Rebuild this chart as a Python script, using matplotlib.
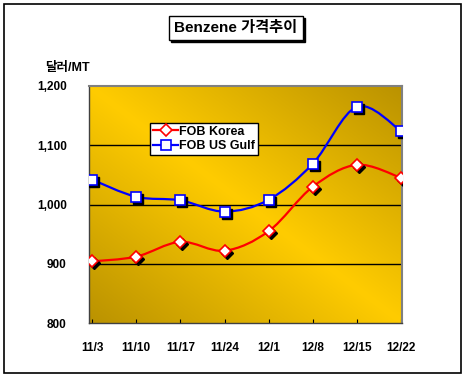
import matplotlib
matplotlib.use("Agg")
import matplotlib.pyplot as plt
import matplotlib.transforms as mtransforms
from matplotlib.path import Path
from matplotlib.patches import PathPatch, Rectangle
from matplotlib.lines import Line2D
import numpy as np

plt.rcParams['font.family'] = ['Liberation Sans', 'Noto Sans CJK KR', 'DejaVu Sans']
plt.rcParams['font.weight'] = 'bold'

# 데이터
weeks = ['11/3', '11/10', '11/17', '11/24', '12/1', '12/8', '12/15', '12/22']
fob_korea = [904, 912, 937, 922, 955, 1030, 1067, 1045]
fob_usgulf = [1042, 1013, 1007, 988, 1008, 1069, 1165, 1124]


def smooth_path(xs, ys):
    # Excel식 부드러운 선 (베지어 곡선)
    pts = np.column_stack([xs, ys]).astype(float)
    n = len(pts)
    verts = [pts[0]]
    codes = [Path.MOVETO]
    for i in range(n - 1):
        p0 = pts[max(i - 1, 0)]
        p1 = pts[i]
        p2 = pts[i + 1]
        p3 = pts[min(i + 2, n - 1)]
        c1 = p1 + (p2 - p0) / 6
        c2 = p2 - (p3 - p1) / 6
        verts += [c1, c2, p2]
        codes += [Path.CURVE4] * 3
    return Path(verts, codes)


fig = plt.figure(figsize=(4.65, 3.81), dpi=100)
ax = fig.add_axes([89 / 465, 1 - 323 / 381, 313 / 465, 237 / 381])

# 배경 그라데이션
u, v = np.meshgrid(np.linspace(0, 1, 300), np.linspace(1, 0, 300))
t = np.clip(np.abs(u + v - 1), 0, 1)
bright = np.array([255, 204, 0]) / 255
dark = np.array([186, 146, 0]) / 255
img = bright[None, None, :] * (1 - t[..., None]) + dark[None, None, :] * t[..., None]
ax.imshow(img, extent=[0, 1, 0, 1], transform=ax.transAxes, aspect='auto', zorder=0)

x = np.arange(len(weeks))
ax.set_xlim(-0.07, 7.02)
ax.set_ylim(800, 1200)

for yv in [900, 1000, 1100]:
    ax.axhline(yv, color='black', lw=1, zorder=1)

shadow = mtransforms.offset_copy(ax.transData, fig=fig, x=1.5, y=-1.5, units='points')

series = [
    (fob_korea, 'red', 'D', 6, 'FOB Korea'),
    (fob_usgulf, 'blue', 's', 6.5, 'FOB US Gulf'),
]
handles = []
for vals, col, mk, ms, name in series:
    ax.add_patch(PathPatch(smooth_path(x, vals), fill=False, edgecolor=col, lw=1.6, zorder=2))
    ax.plot(x, vals, ls='none', marker=mk, ms=ms, color='black', transform=shadow, zorder=3)
    ax.plot(x, vals, ls='none', marker=mk, ms=ms, mfc='white', mec=col, mew=1.2, zorder=4)
    handles.append(Line2D([], [], color=col, lw=1.6, marker=mk, ms=ms, mfc='white', mec=col, mew=1.2, label=name))

leg = ax.legend(handles=handles, loc='upper left', bbox_to_anchor=(0.195, 0.845),
                fontsize=9, frameon=True, fancybox=False, edgecolor='black',
                framealpha=1, handlelength=2.0, handletextpad=0.1, borderpad=0.25,
                labelspacing=0.2, borderaxespad=0)
leg.get_frame().set_linewidth(1)

ax.set_yticks([800, 900, 1000, 1100, 1200])
ax.set_yticklabels(['800', '900', '1,000', '1,100', '1,200'])
ax.set_xticks(x)
ax.set_xticklabels(weeks)
ax.tick_params(axis='y', length=0, pad=16, labelsize=8.5)
ax.tick_params(axis='x', direction='in', length=3, pad=14, labelsize=8.5)

for side in ['top', 'right']:
    ax.spines[side].set_color('#808080')
    ax.spines[side].set_linewidth(1.5)
for side in ['left', 'bottom']:
    ax.spines[side].set_color('#404040')
    ax.spines[side].set_linewidth(1)

fig.text(45 / 465, 1 - 68 / 381, '달러/MT', fontsize=9, fontweight='bold', va='center', ha='left')

# 제목 (그림자 포함)
title = fig.text(236 / 465, 1 - 28 / 381, 'Benzene 가격추이', color='black',
                 fontsize=11, fontweight='bold', ha='center', va='center', zorder=5,
                 bbox=dict(boxstyle='square,pad=0.35', fc='white', ec='black', lw=1))
fig.canvas.draw()
bb = title.get_bbox_patch().get_window_extent()
fig.patches.append(Rectangle(((bb.x0 + 2) / fig.bbox.width, (bb.y0 - 2) / fig.bbox.height),
                             bb.width / fig.bbox.width, bb.height / fig.bbox.height,
                             transform=fig.transFigure, fc='black', ec='black', zorder=1))

# 바깥 테두리
fig.patches.append(Rectangle((4 / 465, 1 - 373 / 381), 457 / 465, 369 / 381,
                             transform=fig.transFigure, fill=False, ec='black', lw=1.2))

fig.savefig('out.png', dpi=100)
